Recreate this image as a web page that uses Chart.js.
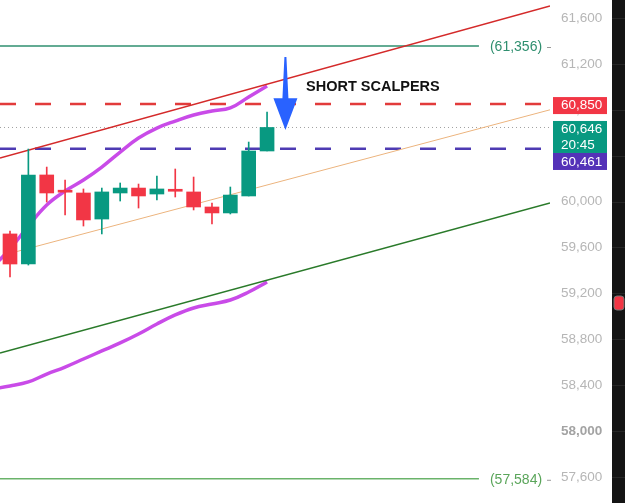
<!DOCTYPE html>
<html lang="en">
<head>
<meta charset="UTF-8">
<title>BTC scalping levels</title>
<script src="https://cdn.jsdelivr.net/npm/chart.js"></script>
<style>
  html, body { margin: 0; padding: 0; background: #fff; }
  #wrap { width: 625px; height: 503px; }
</style>
</head>
<body>
<div id="wrap"><canvas id="priceChart" width="625" height="503"></canvas></div>
<script>
// candles, left to right (one per bar index 0..14)
const opens  = [59718, 59456, 60232, 60086, 60075, 59848, 60075, 60118, 60066, 60095, 60084, 59953, 59901, 60049, 60441];
const closes = [59456, 60232, 60075, 60082, 59840, 60084, 60118, 60049, 60110, 60090, 59953, 59901, 60057, 60441, 60646];
const highs  = [59744, 60458, 60301, 60188, 60110, 60118, 60162, 60153, 60223, 60284, 60214, 59988, 60127, 60519, 60781];
const lows   = [59343, 59447, 59996, 59883, 59787, 59718, 60005, 59944, 60014, 60040, 59927, 59805, 59892, 60049, 60441];

// magenta band, bar index -1..14
const bandUpper = [59421, 59587, 59787, 59970, 60092, 60188, 60301, 60432, 60554, 60641, 60702, 60755, 60790, 60816, 60912, 61007];
const bandLower = [58367, 58393, 58428, 58497, 58558, 58628, 58698, 58768, 58846, 58933, 59012, 59073, 59108, 59142, 59212, 59299];

// visible bar window
const xStart = -0.545, xEnd = 29.41;

// trend lines [value at start, value at end]
const redTrend   = [60380, 61705];   // xStart -> xEnd
const tanTrend   = [59549, 60800];   // bar 0 -> xEnd
const greenTrend = [58680, 59988];   // xStart -> xEnd

// horizontal levels
const targetHigh = 61356;
const shortLevel = 60850;
const lastPrice  = 60646;
const entryLevel = 60461;
const targetLow  = 57584;
const countdown  = '20:45';
const targetLabelEnd = 25.54;        // bar index where the target lines stop

// axis ticks
const tickValues = [57600, 58000, 58400, 58800, 59200, 59600, 60000, 60400, 60800, 61200, 61600];
const boldTick = 58000;

// note + arrow (bar index / price)
const noteText = 'SHORT SCALPERS';
const notePos = [16.12, 60999];
const arrowX = 15;
const arrowFrom = 61260, arrowHead = 60900, arrowTo = 60624;

const UP = '#089981', DOWN = '#f23645';
const candleColors = opens.map((o, i) => closes[i] >= o ? UP : DOWN);
const idx = opens.map((_, i) => i);

const fmt = v => v.toLocaleString('en-US');

function hLine(v, from, to) { return [{x: from, y: v}, {x: to, y: v}]; }

const overlay = {
    id: 'overlay',
    afterDraw(chart) {
        const {ctx, chartArea, scales: {x, y}} = chart;
        const axisRight = chartArea.right + 62;
        ctx.save();

        // dark side strip
        ctx.fillStyle = '#141414';
        ctx.fillRect(axisRight, 0, chart.width - axisRight, chart.height);
        ctx.strokeStyle = '#262626';
        ctx.lineWidth = 1;
        tickValues.forEach(v => {
            const py = Math.round(y.getPixelForValue(v)) + 0.5;
            ctx.beginPath(); ctx.moveTo(axisRight, py); ctx.lineTo(chart.width, py); ctx.stroke();
        });
        const my = y.getPixelForValue(59116);
        ctx.fillStyle = '#f23645';
        ctx.strokeStyle = '#777';
        ctx.beginPath(); ctx.roundRect(axisRight + 2, my - 7, 10, 14, 3); ctx.fill(); ctx.stroke();

        // target labels
        ctx.font = '14px "Liberation Sans", Arial, sans-serif';
        ctx.textBaseline = 'middle';
        ctx.textAlign = 'left';
        [[targetHigh, '#2f8f6f'], [targetLow, '#5aa55a']].forEach(([v, c]) => {
            const py = y.getPixelForValue(v);
            const px = x.getPixelForValue(targetLabelEnd) + 11;
            ctx.fillStyle = c;
            ctx.fillText('(' + fmt(v) + ')', px, py + 1);
            ctx.strokeStyle = '#999';
            ctx.beginPath(); ctx.moveTo(chartArea.right - 3, py + 1.5); ctx.lineTo(chartArea.right + 1, py + 1.5); ctx.stroke();
        });

        // price boxes on the axis
        const bx = chartArea.right + 3, bw = 54, tx = chartArea.right + 11;
        ctx.font = '13.5px "Liberation Sans", Arial, sans-serif';
        const ry = y.getPixelForValue(shortLevel);
        ctx.fillStyle = '#f23645';
        ctx.fillRect(bx, ry - 7, bw, 17);
        ctx.fillStyle = '#fff';
        ctx.fillText(fmt(shortLevel), tx, ry + 1.5);

        const gy = y.getPixelForValue(lastPrice) - 6.5;
        ctx.fillStyle = UP;
        ctx.fillRect(bx, gy, bw, 32);
        ctx.fillStyle = '#fff';
        ctx.fillText(fmt(lastPrice), tx, gy + 8);
        ctx.fillText(countdown, tx, gy + 24);

        ctx.fillStyle = '#5432b8';
        ctx.fillRect(bx, gy + 32, bw, 17);
        ctx.fillStyle = '#fff';
        ctx.fillText(fmt(entryLevel), tx, gy + 41);

        // note
        ctx.fillStyle = '#111';
        ctx.font = 'bold 14.5px "Liberation Sans", Arial, sans-serif';
        ctx.fillText(noteText, x.getPixelForValue(notePos[0]), y.getPixelForValue(notePos[1]));

        // arrow
        const ax = x.getPixelForValue(arrowX);
        const a0 = y.getPixelForValue(arrowFrom), a1 = y.getPixelForValue(arrowHead), a2 = y.getPixelForValue(arrowTo);
        ctx.fillStyle = '#2962ff';
        ctx.beginPath();
        ctx.moveTo(ax - 1, a0);
        ctx.lineTo(ax + 1, a0);
        ctx.lineTo(ax + 3, a1);
        ctx.lineTo(ax + 12, a1);
        ctx.lineTo(ax, a2);
        ctx.lineTo(ax - 12, a1);
        ctx.lineTo(ax - 3, a1);
        ctx.closePath();
        ctx.fill();

        ctx.restore();
    }
};

const lineBase = {type: 'line', pointRadius: 0, fill: false, tension: 0};

new Chart(document.getElementById('priceChart'), {
    type: 'line',
    data: {
        datasets: [
            {type: 'bar', data: idx.map(i => ({x: i, y: [lows[i], highs[i]]})), backgroundColor: candleColors,
             barThickness: 1, grouped: false, order: 1},
            {type: 'bar', data: idx.map(i => ({x: i, y: [opens[i], closes[i]]})), backgroundColor: candleColors,
             barThickness: 14, minBarLength: 2, grouped: false, order: 0},
            {...lineBase, data: bandUpper.map((v, i) => ({x: i - 1, y: v})), borderColor: '#c94be8', borderWidth: 3.5, tension: 0.4, order: 5},
            {...lineBase, data: bandLower.map((v, i) => ({x: i - 1, y: v})), borderColor: '#c94be8', borderWidth: 3.5, tension: 0.4, order: 5},
            {...lineBase, data: [{x: xStart, y: redTrend[0]}, {x: xEnd, y: redTrend[1]}], borderColor: '#d42a2a', borderWidth: 1.5, order: 4},
            {...lineBase, data: [{x: 0, y: tanTrend[0]}, {x: xEnd, y: tanTrend[1]}], borderColor: '#ecb47e', borderWidth: 1, order: 4},
            {...lineBase, data: [{x: xStart, y: greenTrend[0]}, {x: xEnd, y: greenTrend[1]}], borderColor: '#2a7a2a', borderWidth: 1.5, order: 4},
            {...lineBase, data: hLine(targetHigh, xStart, targetLabelEnd), borderColor: '#2f8f6f', borderWidth: 1.5, order: 6},
            {...lineBase, data: hLine(targetLow, xStart, targetLabelEnd), borderColor: '#6ab36a', borderWidth: 1.5, order: 6},
            {...lineBase, data: hLine(shortLevel, xStart, xEnd), borderColor: '#e23b3b', borderWidth: 2.5, borderDash: [16, 19], order: 6},
            {...lineBase, data: hLine(entryLevel, xStart, xEnd), borderColor: '#4e3bb3', borderWidth: 2.5, borderDash: [16, 19], order: 6},
            {...lineBase, data: hLine(lastPrice, xStart, xEnd), borderColor: '#a0a0a0', borderWidth: 1, borderDash: [1, 3], order: 6}
        ]
    },
    options: {
        responsive: false,
        animation: false,
        devicePixelRatio: 1,
        layout: {padding: {left: 0, top: 0, bottom: 0, right: 13}},
        plugins: {legend: {display: false}, tooltip: {enabled: false}},
        scales: {
            x: {type: 'linear', min: xStart, max: xEnd, offset: false, display: false},
            y: {
                position: 'right',
                min: 57373, max: 61757,
                grid: {display: false, drawTicks: false},
                border: {display: false},
                afterBuildTicks: s => { s.ticks = tickValues.map(v => ({value: v})); },
                afterFit: s => { s.width = 62; s.paddingTop = 0; s.paddingBottom = 0; },
                ticks: {
                    padding: 11,
                    color: c => c.tick && c.tick.value === boldTick ? '#a3a3a3' : '#b6b6b6',
                    font: c => ({family: '"Liberation Sans", Arial, sans-serif', size: 13.5,
                                 weight: c.tick && c.tick.value === boldTick ? 'bold' : 'normal'}),
                    callback: v => fmt(v)
                }
            }
        }
    },
    plugins: [overlay]
});
</script>
</body>
</html>
